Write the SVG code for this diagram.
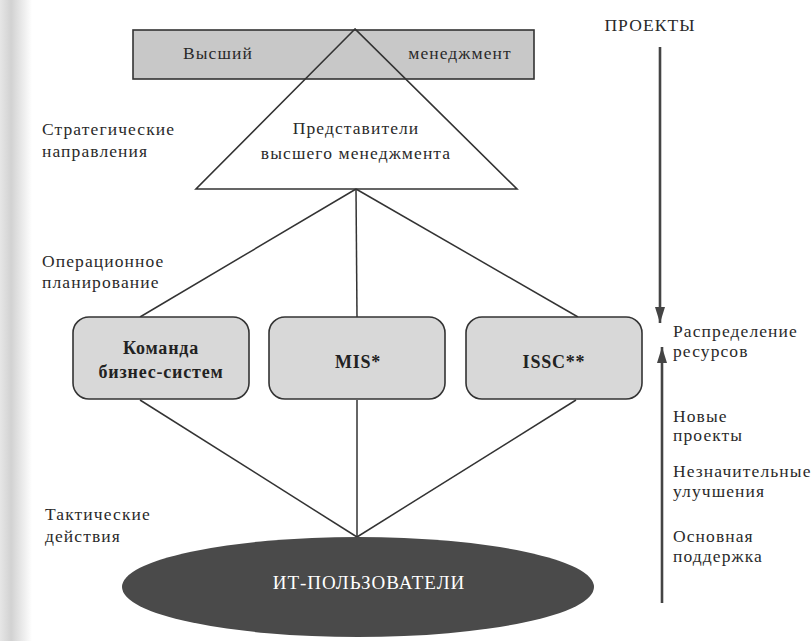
<svg xmlns="http://www.w3.org/2000/svg" width="811" height="641" viewBox="0 0 811 641">
  <defs>
    <linearGradient id="edge" x1="0" y1="0" x2="1" y2="0">
      <stop offset="0" stop-color="#e6e6e6"/>
      <stop offset="0.35" stop-color="#d2d2d2"/>
      <stop offset="1" stop-color="#ffffff"/>
    </linearGradient>
    <marker id="head" viewBox="0 0 16 10" refX="16" refY="5" markerWidth="16" markerHeight="10" markerUnits="userSpaceOnUse" orient="auto">
      <path d="M0,0 L16,5 L0,10 Z" fill="#444"/>
    </marker>
    <style>
      text { font-family: "Liberation Serif", "Times New Roman", serif; fill: #2a2a2a; font-size: 17.5px; letter-spacing: 1.1px; }
      .mid { text-anchor: middle; }
      .bold { font-weight: bold; fill: #222; font-size: 18px; letter-spacing: 0.8px; }
      .white { fill: #ffffff; font-size: 19px; letter-spacing: 1px; }
      .box { fill: #d8d8d8; stroke: #333; stroke-width: 1.6; }
      .conn { stroke: #333; stroke-width: 1.5; fill: none; }
      .arrow { stroke: #444; stroke-width: 2.6; fill: none; }
    </style>
  </defs>

  <rect x="0" y="0" width="811" height="641" fill="#ffffff"/>
  <rect x="0" y="0" width="32" height="641" fill="url(#edge)"/>

  <g id="top-management">
    <polygon points="355,29 196,189 517,189" fill="#ffffff"/>
    <rect x="133" y="30" width="401" height="49" fill="#c8c8c8" stroke="#333" stroke-width="1.6"/>
    <polygon points="355,29 196,189 517,189" fill="none" stroke="#333" stroke-width="1.6"/>
    <text x="218" y="59" class="mid">Высший</text>
    <text x="460" y="59" class="mid">менеджмент</text>
    <text x="356" y="134" class="mid">Представители</text>
    <text x="356" y="159" class="mid">высшего менеджмента</text>
  </g>

  <g id="connectors">
    <line class="conn" x1="356" y1="189" x2="140" y2="317"/>
    <line class="conn" x1="356" y1="189" x2="357" y2="317"/>
    <line class="conn" x1="356" y1="189" x2="578" y2="317"/>
    <line class="conn" x1="140" y1="400" x2="357" y2="537"/>
    <line class="conn" x1="357" y1="400" x2="357" y2="537"/>
    <line class="conn" x1="576" y1="400" x2="357" y2="537"/>
    <line class="arrow" x1="660" y1="47" x2="660" y2="323" marker-end="url(#head)"/>
    <line class="arrow" x1="662" y1="603" x2="662" y2="347" marker-end="url(#head)"/>
  </g>

  <g id="box-business">
    <rect class="box" x="73" y="317" width="176" height="82" rx="16"/>
    <text x="161" y="354" class="mid bold">Команда</text>
    <text x="161" y="378" class="mid bold">бизнес-систем</text>
  </g>

  <g id="box-mis">
    <rect class="box" x="269" y="317" width="176" height="82" rx="16"/>
    <text x="358" y="368" class="mid bold">MIS*</text>
  </g>

  <g id="box-issc">
    <rect class="box" x="466" y="317" width="176" height="82" rx="16"/>
    <text x="554" y="368" class="mid bold">ISSC**</text>
  </g>

  <g id="it-users">
    <ellipse cx="358" cy="587" rx="236" ry="50" fill="#4a4a4a"/>
    <text x="369" y="589" class="mid white">ИТ-ПОЛЬЗОВАТЕЛИ</text>
  </g>

  <g id="labels-left">
    <text x="42" y="135">Стратегические</text>
    <text x="42" y="157">направления</text>
    <text x="42" y="267">Операционное</text>
    <text x="42" y="288">планирование</text>
    <text x="45" y="520">Тактические</text>
    <text x="45" y="542">действия</text>
  </g>

  <g id="labels-right">
    <text x="650" y="31" class="mid">ПРОЕКТЫ</text>
    <text x="673" y="337">Распределение</text>
    <text x="673" y="357">ресурсов</text>
    <text x="673" y="422">Новые</text>
    <text x="673" y="441">проекты</text>
    <text x="673" y="477">Незначительные</text>
    <text x="673" y="497">улучшения</text>
    <text x="673" y="542">Основная</text>
    <text x="673" y="562">поддержка</text>
  </g>
</svg>
